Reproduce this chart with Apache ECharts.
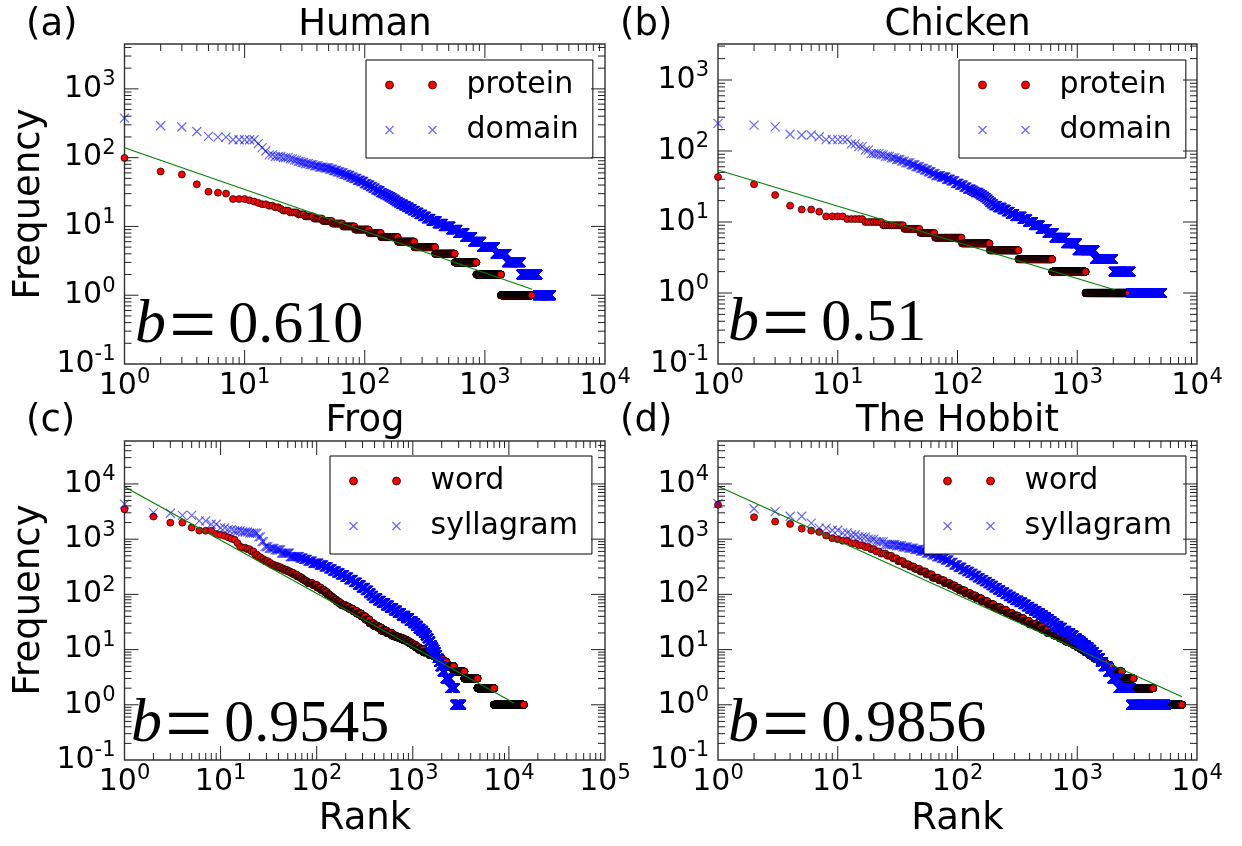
<!DOCTYPE html>
<html><head><meta charset="utf-8">
<script src="https://cdn.jsdelivr.net/npm/echarts@6/dist/echarts.min.js"></script>
<style>html,body{margin:0;padding:0;background:#fff}#c{width:1242px;height:846px}</style>
</head><body><div id="c"></div>
<script>
// ---- Data: rank-frequency runs (frequency value, last rank holding that frequency) ----
// (a) Human
const humanProteinFreq = [99,63,57,41,32,31,30,25,24,23,22,21,20,19,18,17,16,15,14,13,12,11,10,9,8,7,6,5,4,3,2,1];
const humanProteinLastRank = [1,2,3,4,5,6,7,10,11,12,13,15,17,19,20,23,27,31,37,44,53,65,82,108,136,188,258,384,560,849,1360,2455];
const humanDomainFreq = [376,291,279,240,204,199,182,160,140,125,110,104,100,96,92,88,85,82,79,76,73,71,68,65,62,60,57,55,52,50,47,45,42,40,38,36,34,33,31,30,29,28,27,26,25,24,23,22,21,20,19,18,17,16,15,14,13,12,11,10,9,8,7,6,5,4,3,2,1];
const humanDomainLastRank = [1,2,3,4,5,7,12,13,14,15,17,20,23,25,27,29,31,34,37,41,45,50,54,58,62,66,71,75,80,86,92,98,104,110,116,122,128,134,140,146,152,158,164,170,176,182,190,198,210,222,234,248,264,282,302,325,355,400,450,520,595,680,790,940,1220,1520,2000,2750,3560];
const humanFitRank = [1, 2470];
const humanFitFreq = [139, 1.22];
// (b) Chicken
const chickenProteinFreq = [43,34,24,17,15,14,12,11,10,9,8,7,6,5,4,3,2,1];
const chickenProteinLastRank = [1,2,3,4,6,7,11,16,23,35,48,64,108,185,322,617,1174,2700];
const chickenDomainFreq = [245,232,219,172,168,159,145,126,115,103,92,88,84,80,76,72,68,64,60,57,54,51,48,45,43,40,38,35,33,31,29,28,27,26,25,24,23,22,21,20,19,18,17,16,15,14,13,12,11,10,9,8,7,6,5,4,3,2,1];
const chickenDomainLastRank = [1,2,3,4,6,7,12,14,16,18,22,24,27,30,33,36,40,44,48,52,56,60,65,72,80,87,95,103,112,120,130,135,140,150,155,162,168,174,180,185,192,200,215,235,255,275,300,345,385,430,490,560,640,800,1000,1400,2000,2800,5100];
const chickenFitRank = [1, 2080];
const chickenFitFreq = [54, 1.1];
// (c) Frog
const frogWordFreq = [3480,2570,1990,1620,1430,1420,1245,1200,1150,1080,1020,980,850,733,700,660,600,520,470,433,400,370,342,325,310,293,277,260,245,228,210,197,185,178,171,160,148,133,120,110,100,95,91,85,80,74,69,64,60,55,50,45,40,35,30,27,25,22,20,18,17,16,15,14,13,12,11,10,9,8,7,6,5,4,3,2,1];
const frogWordLastRank = [1,2,4,5,6,8,9,10,11,12,13,14,15,16,18,20,22,24,26,28,31,33,36,39,42,45,49,53,57,62,67,71,74,77,80,90,100,110,120,128,135,140,145,152,160,170,180,197,215,237,260,290,320,355,390,430,470,535,600,660,720,790,860,925,990,1070,1150,1290,1500,1750,2000,2240,2670,3440,4710,7000,14300];
const frogSyllFreq = [4300,3020,2950,2700,2150,1860,1600,1500,1420,1350,1290,1100,900,733,680,640,560,483,455,430,400,367,340,315,290,265,245,225,205,185,165,148,132,118,105,95,85,77,70,63,57,51,46,41,37,33,30,27,24,22,20,18,16,14,12,11,10,9,8,7,6,5,4,3,2,1];
const frogSyllLastRank = [1,2,3,5,7,9,11,13,16,19,24,26,28,31,36,42,52,66,72,80,90,105,118,132,145,160,175,195,215,240,265,290,320,345,368,390,430,470,520,570,630,690,760,840,920,1000,1070,1140,1210,1290,1350,1410,1470,1530,1590,1640,1690,1740,1800,1860,1930,2030,2180,2450,2750,3200];
const frogFitRank = [1, 11300];
const frogFitFreq = [8900, 1.08];
// (d) The Hobbit
const hobbitWordFreq = [4200,2500,2080,1890,1550,1430,1350,1160,1040,1000,935,845,780,720,660,600,550,500,450,400,350,320,290,260,230,200,180,160,145,131,118,105,95,85,75,66,58,52,46,41,37,33,29,26,23,20,18,16,14,13,12,11,10,9,8,7,6,5,4,3,2,1];
const hobbitWordLastRank = [1,2,3,4,5,6,7,8,9,10,12,14,16,18,20,22,25,28,31,35,39,43,48,54,61,69,77,86,95,103,115,128,142,158,178,200,228,255,285,320,355,395,450,505,565,640,715,800,880,940,1000,1080,1160,1260,1380,1530,1700,1900,2350,2950,4300,7500];
const hobbitSyllFreq = [4400,3550,3160,2600,1950,1580,1450,1300,1200,1100,1000,900,800,760,720,690,650,610,560,520,480,450,420,380,340,310,280,260,240,220,200,185,170,157,145,132,120,110,100,92,85,78,72,66,60,55,50,46,42,39,36,33,30,27,25,22,20,18,16,15,14,13,12,11,10,9,8,7,6,5,4,3,2,1];
const hobbitSyllLastRank = [1,2,3,5,6,8,10,12,14,17,20,24,30,34,38,43,48,54,60,66,72,78,85,92,100,109,118,126,135,145,155,166,178,189,200,215,230,248,265,282,300,325,350,375,400,430,460,490,520,552,584,615,650,700,750,815,880,940,1000,1040,1080,1120,1185,1250,1315,1380,1480,1560,1650,1800,1950,2200,2800,5500];
const hobbitFitRank = [1, 7500];
const hobbitFitFreq = [9100, 1.4];

const titles = ['Human', 'Chicken', 'Frog', 'The Hobbit'];
const panelLetters = ['(a)', '(b)', '(c)', '(d)'];
const bTexts = ['0.610', '0.51', '0.9545', '0.9856'];

// ---- helpers ----
function expandRuns(F, R) { // every rank of a run shares the run's frequency (ties)
  const out = []; let s = 1;
  for (let i = 0; i < F.length; i++) { for (let r = s; r <= R[i]; r++) out.push([r, F[i]]); s = R[i] + 1; }
  return out;
}
function pairs(R, F) { return R.map((r, i) => [r, F[i]]); }

const panels = [
  {g:{left:124.5, top:44, width:480.5, height:320}, xMax:1e4, yMax:4490,
   s1:['protein', humanProteinFreq, humanProteinLastRank], s2:['domain', humanDomainFreq, humanDomainLastRank],
   fit:pairs(humanFitRank, humanFitFreq), lg:{left:366, top:60}},
  {g:{left:718, top:44, width:479, height:320}, xMax:1e4, yMax:3215,
   s1:['protein', chickenProteinFreq, chickenProteinLastRank], s2:['domain', chickenDomainFreq, chickenDomainLastRank],
   fit:pairs(chickenFitRank, chickenFitFreq), lg:{left:959, top:60}},
  {g:{left:124.5, top:441, width:480.5, height:319}, xMax:1e5, yMax:60000,
   s1:['word', frogWordFreq, frogWordLastRank], s2:['syllagram', frogSyllFreq, frogSyllLastRank],
   fit:pairs(frogFitRank, frogFitFreq), lg:{left:330, top:456}},
  {g:{left:718, top:441, width:479, height:319}, xMax:1e4, yMax:60000,
   s1:['word', hobbitWordFreq, hobbitWordLastRank], s2:['syllagram', hobbitSyllFreq, hobbitSyllLastRank],
   fit:pairs(hobbitFitRank, hobbitFitFreq), lg:{left:924, top:456}}
];

const FONT = 'DejaVu Sans';
const RED = '#ff0000';
const BLUE = 'rgba(0,0,255,0.6)';
const XSYM = 'path://M0,0L10,10M10,0L0,10';
const DOT2 = 'path://M0,4A4,4 0 1,0 8,4A4,4 0 1,0 0,4Z M43,4A4,4 0 1,0 51,4A4,4 0 1,0 43,4Z';
const X2 = 'path://M0,0L8,8M8,0L0,8M43,0L51,8M51,0L43,8';

function powLabel(v) {
  const e = Math.log10(v); const k = Math.round(e);
  if (Math.abs(e - k) > 1e-6) return '';
  return '{m|10}{s|' + k + '}';
}
const labelRich = {
  m: {fontFamily: FONT, fontSize: 30, color: '#000'},
  s: {fontFamily: FONT, fontSize: 21, color: '#000', padding: [0, 0, 18, 0]}
};

function tickData(xMax, yMax) {
  const d = [];
  for (let k = 0; k <= Math.ceil(Math.log10(xMax)); k++)
    for (let m = 1; m <= 9; m++) { const v = m * Math.pow(10, k); if (v > 1 && v < xMax * 0.999) d.push([v, 0.1, 0, m === 1 ? 1 : 0]); }
  for (let k = -1; k <= Math.ceil(Math.log10(yMax)); k++)
    for (let m = 1; m <= 9; m++) { const v = m * Math.pow(10, k); if (v > 0.1001 && v < yMax) d.push([1, v, 1, m === 1 ? 1 : 0]); }
  return d;
}
function makeTickRenderer(xMax, yMax) {
  return function (params, api) {
    const kind = api.value(2), major = api.value(3), len = major ? 14 : 7;
    const st = {stroke: '#222', lineWidth: 1};
    if (kind === 0) {
      const v = api.value(0);
      const b = api.coord([v, 0.1]), t = api.coord([v, yMax]);
      return {type: 'group', children: [
        {type: 'line', shape: {x1: b[0], y1: b[1], x2: b[0], y2: b[1] - len}, style: st},
        {type: 'line', shape: {x1: t[0], y1: t[1], x2: t[0], y2: t[1] + len}, style: st}]};
    } else {
      const v = api.value(1);
      const l = api.coord([1, v]), r = api.coord([xMax, v]);
      return {type: 'group', children: [
        {type: 'line', shape: {x1: l[0], y1: l[1], x2: l[0] + len, y2: l[1]}, style: st},
        {type: 'line', shape: {x1: r[0], y1: r[1], x2: r[0] - len, y2: r[1]}, style: st}]};
    }
  };
}

const grid = [], xAxis = [], yAxis = [], series = [], legend = [], graphic = [];
panels.forEach((p, i) => {
  grid.push(Object.assign({show: true, borderColor: '#333', borderWidth: 1.4, backgroundColor: 'transparent', containLabel: false, outerBoundsMode: 'none'}, p.g));
  xAxis.push({type: 'log', logBase: 10, gridIndex: i, min: 1, max: p.xMax,
    axisLine: {show: false}, axisTick: {show: false}, splitLine: {show: false}, minorTick: {show: false},
    axisLabel: {formatter: powLabel, rich: labelRich, margin: 3, color: '#000', hideOverlap: false}});
  yAxis.push({type: 'log', logBase: 10, gridIndex: i, min: 0.1, max: p.yMax,
    axisLine: {show: false}, axisTick: {show: false}, splitLine: {show: false}, minorTick: {show: false},
    axisLabel: {formatter: powLabel, rich: labelRich, margin: 9, color: '#000', hideOverlap: false}});
  series.push({type: 'scatter', name: p.s1[0], xAxisIndex: i, yAxisIndex: i, data: expandRuns(p.s1[1], p.s1[2]),
    symbol: 'circle', symbolSize: 7, itemStyle: {color: RED, borderColor: '#000', borderWidth: 0.7, opacity: 1},
    progressive: 0, large: false, silent: true, clip: true, z: 2, emphasis: {disabled: true}});
  series.push({type: 'scatter', name: p.s2[0], xAxisIndex: i, yAxisIndex: i, data: expandRuns(p.s2[1], p.s2[2]),
    symbol: XSYM, symbolSize: 9, itemStyle: {color: 'none', borderColor: BLUE, borderWidth: 1.2, opacity: 1},
    progressive: 0, large: false, silent: true, clip: true, z: 3, emphasis: {disabled: true}});
  series.push({type: 'line', name: 'fit' + i, xAxisIndex: i, yAxisIndex: i, data: p.fit, symbol: 'none',
    lineStyle: {color: '#008000', width: 1.1}, silent: true, z: 4, emphasis: {disabled: true}});
  series.push({type: 'custom', name: 'ticks' + i, xAxisIndex: i, yAxisIndex: i, data: tickData(p.xMax, p.yMax),
    renderItem: makeTickRenderer(p.xMax, p.yMax), silent: true, z: 5, clip: false});
  legend.push({left: p.lg.left, top: p.lg.top, orient: 'vertical', padding: [8, 14, 11, 17],
    itemWidth: 51, itemHeight: 8, itemGap: 11, backgroundColor: '#fff', borderColor: '#000', borderWidth: 1,
    borderRadius: 0, selectedMode: false,
    textStyle: {fontFamily: FONT, fontSize: 30, color: '#000', lineHeight: 34, padding: [0, 0, 0, 25]},
    data: [
      {name: p.s1[0], icon: DOT2, itemStyle: {color: RED, borderColor: '#000', borderWidth: 0.7}},
      {name: p.s2[0], icon: X2, itemStyle: {color: 'none', borderColor: BLUE, borderWidth: 1.2}}]});
});

function txt(x, y, s, extra) {
  return {type: 'text', x: x, y: y, silent: true, z: 10,
    style: Object.assign({text: s, fill: '#000', fontFamily: FONT, fontSize: 37,
      textAlign: 'center', align: 'center', textVerticalAlign: 'middle', verticalAlign: 'middle'}, extra || {})};
}
const titlePos = [[365, 25], [957.5, 25], [365, 421], [957.5, 421]];
titles.forEach((t, i) => graphic.push(txt(titlePos[i][0], titlePos[i][1], t)));
const letterPos = [[26, 25], [620, 25], [26, 421], [620, 421]];
panelLetters.forEach((t, i) => graphic.push(txt(letterPos[i][0], letterPos[i][1], t, {textAlign: 'left', align: 'left'})));
graphic.push(txt(365, 819, 'Rank'));
graphic.push(txt(957.5, 819, 'Rank'));
const fa = txt(29, 204, 'Frequency'); fa.rotation = Math.PI / 2; graphic.push(fa);
const fc = txt(29, 600, 'Frequency'); fc.rotation = Math.PI / 2; graphic.push(fc);
const bPos = [[135, 326], [728, 324], [131, 725], [728, 725]];
bTexts.forEach((t, i) => {
  graphic.push({type: 'text', x: bPos[i][0], y: bPos[i][1], silent: true, z: 10,
    style: {text: '{i|b}{e|=}{n|' + t + '}', fill: '#000', textAlign: 'left', align: 'left',
      textVerticalAlign: 'middle', verticalAlign: 'middle',
      rich: {
        i: {fontFamily: 'Liberation Serif', fontStyle: 'italic', fontSize: 62, fill: '#000', color: '#000', lineHeight: 70},
        e: {fontFamily: 'Liberation Serif', fontSize: 84, fill: '#000', color: '#000', padding: [9, 4, 0, 3], lineHeight: 70},
        n: {fontFamily: 'Liberation Serif', fontSize: 60, fill: '#000', color: '#000', padding: [0, 0, 0, 8], lineHeight: 70}
      }}});
});

const chart = echarts.init(document.getElementById('c'), null, {renderer: 'canvas'});
chart.setOption({
  animation: false, backgroundColor: '#fff',
  grid: grid, xAxis: xAxis, yAxis: yAxis, series: series, legend: legend, graphic: graphic
});
</script></body></html>
